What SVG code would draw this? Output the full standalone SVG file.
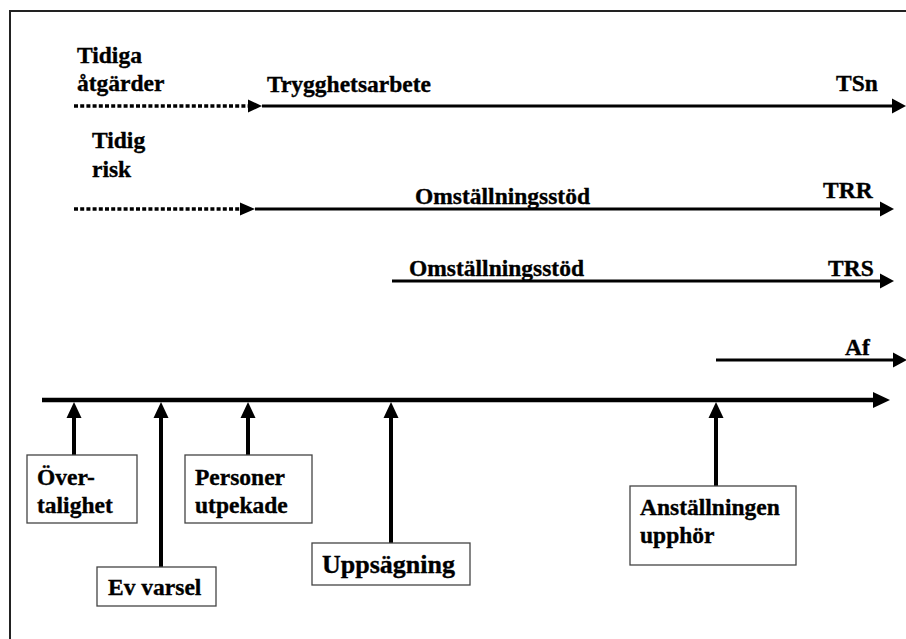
<svg xmlns="http://www.w3.org/2000/svg" width="906" height="639" viewBox="0 0 906 639">
<style>
text{font-family:'Liberation Serif',Tinos,'Times New Roman','DejaVu Serif',serif;font-weight:700;font-size:23.5px;fill:#000;stroke:#000;stroke-width:0.35}
.big{font-size:26px}
.box{fill:#fff;stroke:#444;stroke-width:1.3}
.solid{stroke:#000;stroke-width:3;fill:none}
.dot{stroke:#000;stroke-width:3.5;stroke-dasharray:4 2.2;fill:none}
.axis{stroke:#000;stroke-width:4.3;fill:none}
.stem{stroke:#000;stroke-width:4;fill:none}
</style>
<rect x="0" y="0" width="906" height="639" fill="#fff"/>
<rect x="10" y="11" width="920" height="660" fill="none" stroke="#222" stroke-width="2"/>
<g id="connectors">
  <line class="dot" x1="74" y1="106" x2="248" y2="106"/>
  <polygon points="248,99.5 262,106 248,112.5"/>
  <line class="solid" x1="262" y1="106" x2="893" y2="106"/>
  <polygon points="892,98.5 906,106 892,113.5"/>
  <line class="dot" x1="74" y1="209" x2="240" y2="209"/>
  <polygon points="240,202.5 255,209 240,215.5"/>
  <line class="solid" x1="255" y1="209" x2="881" y2="209"/>
  <polygon points="880,201.5 894,209 880,216.5"/>
  <line class="solid" x1="392" y1="281" x2="881" y2="281"/>
  <polygon points="880,273.5 894,281 880,288.5"/>
  <line class="solid" x1="716" y1="360" x2="894" y2="360"/>
  <polygon points="893,352.5 907,360 893,367.5"/>
  <line class="axis" x1="42" y1="400" x2="874" y2="400"/>
  <polygon points="873,392 890,400 873,408"/>
  <line class="stem" x1="74" y1="415" x2="74" y2="455"/>
  <polygon points="74,402 81.5,418 66.5,418"/>
  <line class="stem" x1="161" y1="415" x2="161" y2="567"/>
  <polygon points="161,402 168.5,418 153.5,418"/>
  <line class="stem" x1="248" y1="415" x2="248" y2="455"/>
  <polygon points="248,402 255.5,418 240.5,418"/>
  <line class="stem" x1="391" y1="415" x2="391" y2="543"/>
  <polygon points="391,402 398.5,418 383.5,418"/>
  <line class="stem" x1="716" y1="415" x2="716" y2="486"/>
  <polygon points="716,402 723.5,418 708.5,418"/>
</g>
<g id="labels">
  <text x="77" y="63">Tidiga</text>
  <text x="77" y="91">åtgärder</text>
  <text x="267" y="92">Trygghetsarbete</text>
  <text x="836" y="91">TSn</text>
  <text x="92" y="148">Tidig</text>
  <text x="92" y="177">risk</text>
  <text x="415" y="204">Omställningsstöd</text>
  <text x="823" y="198">TRR</text>
  <text x="409" y="276">Omställningsstöd</text>
  <text x="828" y="276">TRS</text>
  <text x="845" y="355">Af</text>
</g>
<g id="overtalighet">
  <rect class="box" x="27" y="455" width="110" height="68"/>
  <text x="37" y="485">Över-</text>
  <text x="37" y="513">talighet</text>
</g>
<g id="ev-varsel">
  <rect class="box" x="97" y="567" width="119" height="39"/>
  <text x="108" y="595">Ev varsel</text>
</g>
<g id="personer-utpekade">
  <rect class="box" x="185" y="455" width="127" height="68"/>
  <text x="195" y="485">Personer</text>
  <text x="195" y="513">utpekade</text>
</g>
<g id="uppsagning">
  <rect class="box" x="312" y="543" width="158" height="42"/>
  <text class="big" x="322" y="573">Uppsägning</text>
</g>
<g id="anstallningen-upphor">
  <rect class="box" x="630" y="486" width="166" height="79"/>
  <text x="640" y="515">Anställningen</text>
  <text x="640" y="543">upphör</text>
</g>
</svg>
